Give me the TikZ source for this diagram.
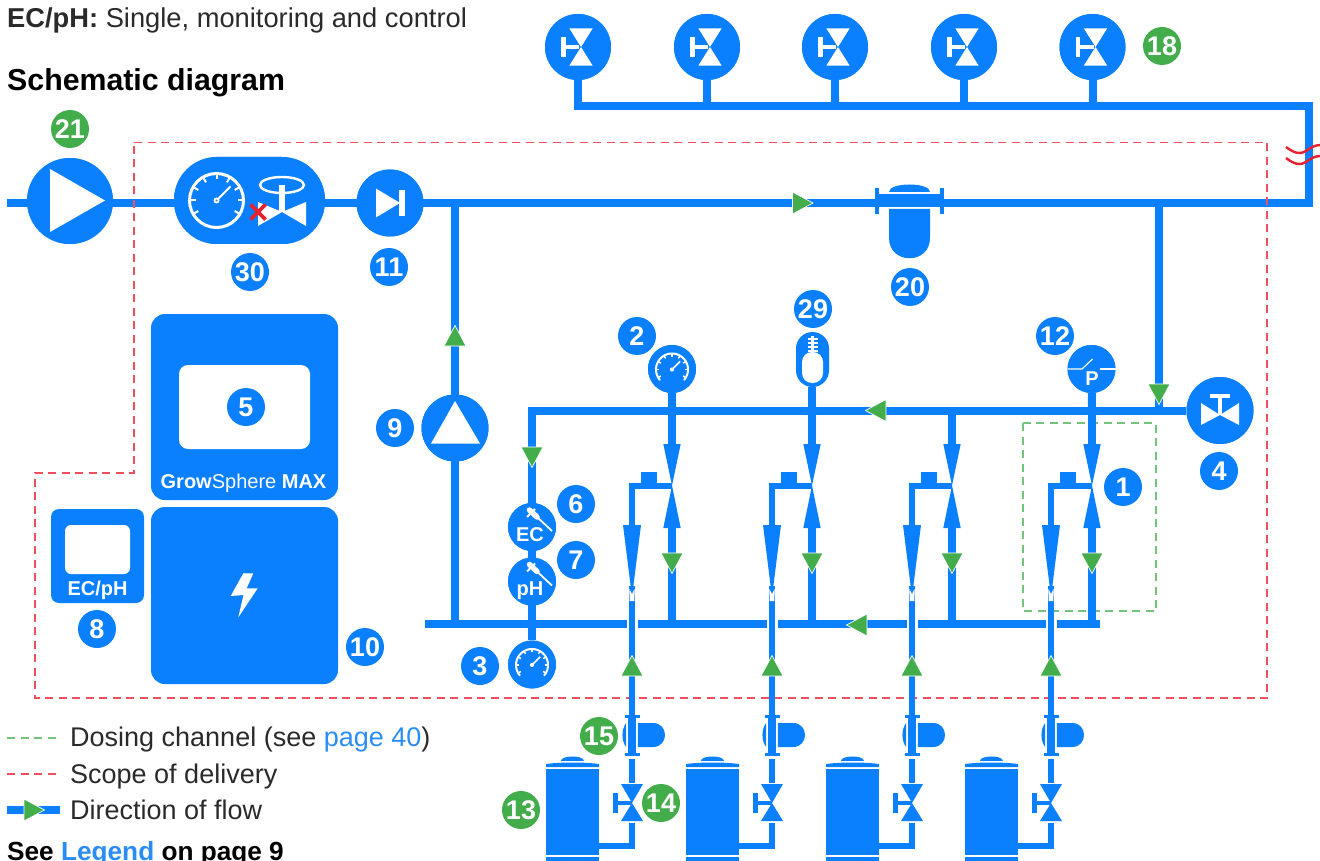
\documentclass[tikz,border=0pt]{standalone}
\usepackage{fontspec}
\setmainfont{Liberation Sans}
\definecolor{pipeblue}{HTML}{0A80FF}
\definecolor{flowgreen}{HTML}{43AC4B}
\definecolor{dashgreen}{HTML}{72C47A}
\definecolor{dashred}{HTML}{F0505E}
\definecolor{alertred}{HTML}{E8212E}
\definecolor{linkblue}{HTML}{2A8CF5}
\definecolor{inktext}{HTML}{2A2A2A}
\newcommand{\fs}[1]{\fontsize{#1}{#1}\selectfont}
\newcommand{\gaugeface}[2]{%
  \draw[white,line width=#2,line cap=round] plot[domain=140:400,samples=40] ({#1*cos(\x)},{#1*sin(\x)});
  \foreach \a in {150,180,...,390} \draw[white,line width=#2*.75] ({#1*cos(\a)},{#1*sin(\a)}) -- ({.8*#1*cos(\a)},{.8*#1*sin(\a)});
  \draw[white,line width=#2*.75] (0,0) -- ({.72*#1*cos(-45)},{.72*#1*sin(-45)});
  \fill[white] (0,0) circle[radius=#1*.13];
}
\tikzset{
  x=1pt,y=-1pt,
  pipe/.style={draw=pipeblue,line width=8pt,line cap=butt,line join=miter},
  thin pipe/.style={draw=pipeblue,line width=6pt,line cap=butt,line join=miter},
  disc/.style={circle,fill=pipeblue,inner sep=0pt,minimum size=#1},
  badge/.style={circle,fill=pipeblue,text=white,inner sep=0pt,minimum size=38pt,font=\fs{27}\bfseries},
  gbadge/.style={badge,fill=flowgreen},
  lbl/.style={anchor=base west,inner sep=0pt,text=inktext},
  wlbl/.style={anchor=base,inner sep=0pt,text=white},
  scopeline/.style={draw=dashred,line width=1.3pt,dash pattern=on 8pt off 5.5pt},
  chanline/.style={draw=dashgreen,line width=1.3pt,dash pattern=on 8pt off 5.5pt},
  box/.style={fill=pipeblue,rounded corners=14pt},
  flow/.pic={\fill[flowgreen,draw=white,line width=.7pt] (-10,-11) -- (10.5,0) -- (-10,11) -- cycle;},
  topvalve/.pic={
    \fill[white] (-8.7,-18.7) -- (14.7,-18.7) -- (3,0) -- (14.7,18.7) -- (-8.7,18.7) -- (3,0) -- cycle;
    \fill[white] (-17,-10) rectangle (-12.5,10);
    \fill[white] (-17,-2) rectangle (1,2);
  },
  gaugesmall/.pic={\gaugeface{16}{2pt}},
  gaugelarge/.pic={
    \draw[white,line width=3pt] (0,0) circle[radius=27pt];
    \foreach \a in {150,180,...,390} \draw[white,line width=2pt] ({27*cos(\a)},{27*sin(\a)}) -- ({21*cos(\a)},{21*sin(\a)});
    \draw[white,line width=2pt] (0,0) -- (14,-14);
    \fill[white] (0,0) circle[radius=3pt];
    \fill[pipeblue] (0,0) circle[radius=1pt];
  },
  probe/.pic={
    \draw[white,line width=1.8pt] (5,0) -- (20,14);
    \draw[white,line width=5.5pt,line cap=round] (-2.5,-7) -- (5,0);
    \draw[white,line width=2pt] (-5,0) -- (3,-8);
  },
}
\begin{document}
\begin{tikzpicture}
\useasboundingbox (0,0) rectangle (1320,861);

% dosing-channel frame
\draw[chanline] (1023,423) rectangle (1156,611);

% named junctions
\coordinate (inlet) at (7,203);
\coordinate (corner1) at (1309,203);
\coordinate (corner2) at (1309,106);
\coordinate (corner3) at (578,106);
\coordinate (main455) at (455,203);
\coordinate (main1159) at (1159,203);
\coordinate (hdr532) at (532,410.5);
\coordinate (hdr1159) at (1159,410.5);
\coordinate (man455) at (455,624);
\coordinate (manL) at (425,624);
\coordinate (manR) at (1100,624);

% equipment discs (drawn after the pipes below use their names)
\path
  node[disc=86pt,name=pump21] at (70,201) {}
  node[disc=66pt,name=valve18a] at (578,47) {}
  node[disc=66pt,name=valve18b] at (707,47) {}
  node[disc=66pt,name=valve18c] at (835,47) {}
  node[disc=66pt,name=valve18d] at (964,47) {}
  node[disc=66pt,name=valve18e] at (1092.5,47) {}
  node[disc=67pt,name=check11] at (390,203) {}
  node[disc=67pt,name=pump9] at (455,428) {}
  node[disc=67pt,name=valve4] at (1220,410.5) {}
  node[disc=48pt,name=gauge2] at (672,369) {}
  node[disc=48pt,name=pswitch] at (1091.5,369) {}
  node[disc=48pt,name=ecprobe] at (532,527) {}
  node[disc=48pt,name=phprobe] at (532,581.5) {}
  node[disc=48pt,name=gauge3] at (532,664.5) {};
\node[fill=pipeblue,rounded corners=43pt,minimum width=151pt,minimum height=87pt,inner sep=0pt] (group30) at (249.5,200.5) {};

% pipes
\draw[pipe] (inlet) -- (corner1) -- (corner2) -- (corner3) -- (valve18a);
\foreach \v in {valve18b,valve18c,valve18d,valve18e} \draw[pipe] (\v.south) -- (\v.south |- corner3);
\draw[pipe] (main455) -- (man455);
\draw[pipe] (manL) -- (manR);
\draw[pipe] (main1159) -- (hdr1159);
\draw[pipe] (valve4) -- (hdr532) -- (gauge3);

\foreach \vx/\ix/\tk [count=\n] in {672/632/546,812/772/686,952/912/826,1092/1051/965}{
  \coordinate (hdr\n) at (\vx,410.5);
  \coordinate (vtop\n) at (\vx,445);
  \coordinate (vtip\n) at (\vx,485.5);
  \coordinate (vbot\n) at (\vx,527);
  \coordinate (man\n) at (\vx,624);
  \coordinate (act\n) at (\ix,485.5);
  \coordinate (inj\n) at (\ix,526);
  \coordinate (feedtop\n) at (\ix,586);
  \coordinate (flangetop\n) at (\ix,716);
  \coordinate (feedA\n) at (\ix,759);
  \coordinate (feedB\n) at (\ix,783);
  \coordinate (feedC\n) at (\ix,823);
  \coordinate (feedD\n) at (\ix,846);
  \coordinate (tank\n) at (\tk+53,846);
  \draw[pipe] (hdr\n) -- (vtop\n);
  \draw[pipe] (vbot\n) -- (man\n);
  % dosing valve
  \fill[pipeblue] (\vx-8.7,444) -- (\vx+8.7,444) -- (\vx,485.5) -- cycle;
  \fill[pipeblue] (\vx-8.7,528) -- (\vx+8.7,528) -- (\vx,485.5) -- cycle;
  \pic[rotate=-90] at (\vx,563) {flow};
  \draw[thin pipe] (vtip\n) -- (act\n) -- (inj\n);
  \fill[pipeblue] (\ix+9,472) rectangle (\ix+25,485);
  % injector
  \fill[pipeblue] (\ix-9,525) -- (\ix+9,525) -- (\ix,597) -- cycle;
}
\draw[pipe] (gauge2) -- (hdr1);
\draw[pipe] (hdr2 |- 0,387) -- (hdr2);
\draw[pipe] (pswitch) -- (hdr4);

% scope of delivery
\draw[scopeline] (134,142.5) -- (1267,142.5) -- (1267,698) -- (35,698) -- (35,473) -- (134,473) -- cycle;

\foreach \vx/\ix/\tk [count=\n] in {672/632/546,812/772/686,952/912/826,1092/1051/965}{
  \draw[white,line width=11pt] (\ix,612) -- (\ix,636);
  \draw[thin pipe] (feedtop\n) -- (flangetop\n);
  \fill[white] (\ix-2.4,601) -- (\ix+2.4,601) -- (\ix+2.6,589) -- (\ix,594) -- (\ix-2.6,589) -- cycle;
  \pic[rotate=90] at (\ix,666) {flow};
  % dosing filter
  \fill[pipeblue] (\ix-7.5,715) rectangle (\ix+8,718);
  \fill[pipeblue] (\ix-7.5,753) rectangle (\ix+8,756);
  \fill[pipeblue] (\ix-4.5,715) rectangle (\ix+4.2,756);
  \fill[pipeblue] (\ix-5.8,723) .. controls (\ix-10.8,729) and (\ix-10.8,741) .. (\ix-5.8,747) -- cycle;
  \fill[pipeblue] (\ix+5.8,723) -- (\ix+21,723) .. controls (\ix+37,723) and (\ix+37,747) .. (\ix+21,747) -- (\ix+5.8,747) -- cycle;
  \draw[thin pipe] (feedA\n) -- (feedB\n);
  % shut-off valve
  \fill[pipeblue] (\ix-11,784) -- (\ix+11,784) -- (\ix,803) -- (\ix+11,821) -- (\ix-11,821) -- (\ix,803) -- cycle;
  \fill[pipeblue] (\ix-19,793) rectangle (\ix-14,813);
  \fill[pipeblue] (\ix-19,801) rectangle (\ix,805);
  \draw[thin pipe] (feedC\n) -- (feedD\n) -- (tank\n);
  % tank
  \fill[pipeblue] (\tk+15,761) .. controls (\tk+15,755) and (\tk+38,755) .. (\tk+38,761) -- cycle;
  \fill[pipeblue] (\tk,767) -- (\tk,764) .. controls (\tk+15,762) and (\tk+38,762) .. (\tk+53,764) -- (\tk+53,767) -- cycle;
  \fill[pipeblue] (\tk,769) rectangle (\tk+53,855);
  \fill[pipeblue] (\tk,857) rectangle (\tk+53,861);
}

% re-stack the discs on top of the pipes
\foreach \c/\d/\s in {70/201/86,578/47/66,707/47/66,835/47/66,964/47/66,1092.5/47/66,390/203/67,455/428/67,1220/410.5/67,672/369/48,1091.5/369/48,532/527/48,532/581.5/48,532/664.5/48}
  \fill[pipeblue] (\c,\d) circle[radius=\s/2*1pt];
\fill[pipeblue,rounded corners=43pt] (174,157) rectangle (325,244);

% pump 21
\fill[white] (50,169) -- (105,200.5) -- (50,232) -- cycle;
% group 30
\pic at (216.5,200.5) {gaugelarge};
\fill[white] (258,226) -- (258,202) -- (282,212) -- (306,202) -- (306,226) -- (282,212) -- cycle;
\draw[white,line width=2.4pt] (282,185) ellipse[x radius=22pt,y radius=8pt];
\fill[white] (279,185) rectangle (285,212);
\draw[alertred,line width=3.8pt] (250.5,204.5) -- (265.5,219.5) (265.5,204.5) -- (250.5,219.5);
% check valve 11
\fill[white] (376,188.5) -- (400,203) -- (376,217.5) -- cycle;
\fill[white] (399,190) rectangle (405,216);
% top valves
\foreach \c in {578,707,835,964,1092.5} \pic at (\c,47) {topvalve};
% pump 9
\fill[white] (455,401) -- (480,443.5) -- (431,443.5) -- cycle;
% valve 4
\fill[white] (1201,403) -- (1220,415) -- (1239,403) -- (1239,425) -- (1220,415) -- (1201,425) -- cycle;
\fill[white] (1210,393.5) rectangle (1230,398);
\fill[white] (1218,393.5) rectangle (1222,415);
% gauges
\pic at (672,369.5) {gaugesmall};
\pic at (532,665) {gaugesmall};
% pressure switch
\draw[white,line width=1.2pt] (1067.5,369) -- (1082,369) -- (1092.5,359);
\draw[white,line width=1.2pt] (1100,369) -- (1115.5,369);
\node[wlbl,font=\fs{20}\bfseries] (ptext) at (1092,385) {P};
% thermometer 29
\fill[pipeblue,rounded corners=16.5pt] (796,332) rectangle (829,387);
\fill[white,rounded corners=10pt] (802,352) rectangle (823,383);
\fill[white] (811,336) rectangle (814,352);
\foreach \t in {338,342,346,350} \fill[white] (807.5,\t) rectangle (817.5,\t+1.5);
% probes
\pic at (532,517) {probe};
\pic at (532,571.5) {probe};
\node[wlbl,font=\fs{20}\bfseries] (ectext) at (530,541) {EC};
\node[wlbl,font=\fs{20}\bfseries] (phtext) at (530,595) {pH};

% filter 20
\fill[white] (885,190) rectangle (934,210);
\fill[pipeblue] (889,192) .. controls (889,182) and (930,182) .. (930,192) -- cycle;
\fill[pipeblue] (877,194) rectangle (942,207);
\fill[pipeblue] (889,209) -- (930,209) -- (930,238) .. controls (930,265) and (889,265) .. (889,238) -- cycle;
\fill[pipeblue] (875,188) rectangle (879,214);
\fill[pipeblue] (940,188) rectangle (944,214);

% flow arrows on pipes
\pic at (802.5,203) {flow};
\pic[rotate=90] at (455,336) {flow};
\pic[rotate=-90] at (532,457) {flow};
\pic[rotate=-90] at (1159,394) {flow};
\pic[rotate=180] at (876,410.5) {flow};
\pic[rotate=180] at (857,625) {flow};

% red break marks
\draw[alertred,line width=2.4pt] (1286,147) .. controls (1294,153) and (1300,155) .. (1306,151) .. controls (1310,148) and (1315,145) .. (1320,145);
\draw[alertred,line width=2.4pt] (1286,158) .. controls (1294,164) and (1300,166) .. (1306,162) .. controls (1310,159) and (1315,156) .. (1320,156);

% controller boxes
\fill[box] (151,314) rectangle (338,500);
\fill[white,rounded corners=9pt] (179,365) rectangle (310,449);
\node[wlbl,font=\fs{20},anchor=base] (brand) at (243.5,488) {\textbf{Grow}Sphere \textbf{MAX}};
\fill[box] (151,507) rectangle (338,684);
\fill[white] (243.3,573.3) -- (253.3,573.3) -- (246.7,588.3) -- (257.7,588.3) -- (238.3,617.3) -- (243.5,595) -- (230.7,596) -- cycle;
\fill[box,rounded corners=8pt] (51,509) rectangle (144,603);
\fill[white,rounded corners=6pt] (65,525) rectangle (130,574);
\node[wlbl,font=\fs{20}\bfseries] (ecph) at (97.5,595) {EC/pH};

% number badges
\node[gbadge] (b21) at (70,129) {21};
\node[badge] (b30) at (250,272) {30};
\node[badge] (b11) at (389,267) {11};
\node[badge] (b2) at (637,336) {2};
\node[badge] (b29) at (813,309) {29};
\node[badge] (b12) at (1055,336) {12};
\node[badge] (b1) at (1123,487) {1};
\node[badge] (b4) at (1219,471) {4};
\node[badge] (b5) at (246,407) {5};
\node[badge] (b9) at (395,428) {9};
\node[badge] (b6) at (576,504) {6};
\node[badge] (b7) at (576,560) {7};
\node[badge] (b3) at (480,666) {3};
\node[badge] (b8) at (97,629) {8};
\node[badge] (b10) at (365,647) {10};
\node[gbadge] (b18) at (1162,46) {18};
\node[badge] (b20) at (910,287) {20};
\node[gbadge] (b15) at (599,736) {15};
\node[gbadge] (b14) at (661,803) {14};
\node[gbadge] (b13) at (521,810) {13};

% texts
\node[lbl,font=\fs{27.3}] (title) at (7,28) {\textbf{EC/pH:} Single, monitoring and control};
\node[lbl,font=\fs{30.3}\bfseries,text=black] (head) at (7,91) {Schematic diagram};
\coordinate (lg1a) at (7,738); \coordinate (lg1b) at (60,738);
\coordinate (lg2a) at (7,774); \coordinate (lg2b) at (60,774);
\coordinate (lg3a) at (7,810); \coordinate (lg3b) at (60,810);
\draw[chanline] (lg1a) -- (lg1b);
\draw[scopeline] (lg2a) -- (lg2b);
\draw[pipe] (lg3a) -- (lg3b);
\pic at (34,810) {flow};
\node[lbl,font=\fs{27}] (l1) at (70,746) {Dosing channel (see \textcolor{linkblue}{page 40})};
\node[lbl,font=\fs{27}] (l2) at (70,783) {Scope of delivery};
\node[lbl,font=\fs{27}] (l3) at (70,819.5) {Direction of flow};
\node[lbl,font=\fs{26.2}\bfseries,text=black] (l4) at (7,860) {See \textcolor{linkblue}{Legend} on page 9};
\end{tikzpicture}
\end{document}
